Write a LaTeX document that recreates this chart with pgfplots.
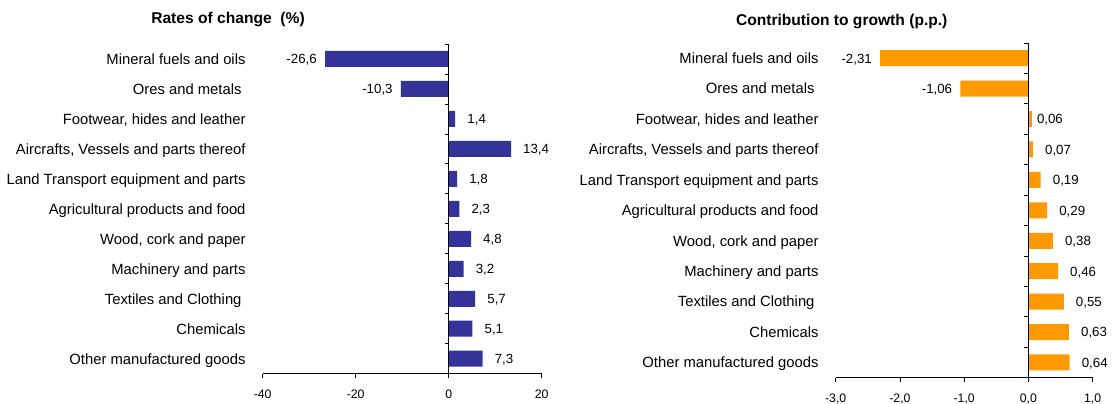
\documentclass[border=0pt]{standalone}
\usepackage{pgfplots}
\pgfplotsset{compat=1.18}
\usepackage{fontspec}
\setmainfont{Liberation Sans}
\definecolor{barblue}{HTML}{333399}
\definecolor{barorange}{HTML}{FF9900}
\newcommand{\catfont}{\fontsize{14.8}{17}\selectfont}
\newcommand{\datafont}{\fontsize{13.3}{15}\selectfont}
\newcommand{\tickfont}{\fontsize{12.3}{14}\selectfont}
\newcommand{\titlefont}{\fontsize{15.6}{18}\selectfont\bfseries}
\pgfkeys{/pgf/number format/assume math mode=true}
\pgfplotsset{
  mybar/.style={
    scale only axis, enlargelimits=false,
    ymin=-0.5, ymax=10.5,
    axis x line*=bottom, axis y line*=left,
    y axis line style={draw=none},
    x axis line style={line width=0.8pt},
    ytick={0,...,10},
    ytick style={draw=none},
    xtick style={draw=black, line width=0.8pt},
    tick align=outside, major tick length=4pt,
    yticklabel style={font=\catfont, anchor=base east, inner sep=0pt, xshift=-13pt, yshift=-5.3pt},
    xticklabel style={font=\tickfont, anchor=base, inner sep=0pt, yshift=-21pt},
    xbar, bar width=16pt, bar shift=0pt,
    clip=false,
    yticklabels={Other manufactured goods, Chemicals, Textiles and Clothing\hspace*{4pt}, Machinery and parts, {Wood, cork and paper}, Agricultural products and food, Land Transport equipment and parts, {Aircrafts, Vessels and parts thereof}, {Footwear, hides and leather}, Ores and metals\hspace*{4pt}, Mineral fuels and oils},
  },
  posl/.style={point meta=x, nodes near coords,
    every node near coord/.append style={font=\datafont, anchor=base west, inner sep=0pt, xshift=12pt, yshift=-4.8pt}},
  posn/.style={point meta=x, nodes near coords,
    every node near coord/.append style={font=\datafont, anchor=base west, inner sep=0pt, xshift=4.5pt, yshift=-4.8pt}},
  negl/.style={point meta=x, nodes near coords,
    every node near coord/.append style={font=\datafont, anchor=base east, inner sep=0pt, xshift=-8pt, yshift=-4.8pt}},
}
\begin{document}
\begin{tikzpicture}
\path[use as bounding box] (0pt,0pt) rectangle (1112pt,404pt);

\node[font=\titlefont, anchor=base] at (228pt,380pt) {Rates of change\ \ (\%)};
\node[font=\titlefont, anchor=base] at (841.7pt,378.5pt) {Contribution to growth (p.p.)};

\begin{axis}[mybar,
  at={(262.7pt,30.3pt)}, anchor=south west,
  width=279pt, height=329.7pt,
  xmin=-40, xmax=20, xtick={-40,-20,0,20},
  every node near coord/.append style={/pgf/number format/fixed, /pgf/number format/fixed zerofill, /pgf/number format/precision=1, /pgf/number format/use comma},
]
\addplot[fill=barblue, draw=none, posl] coordinates {(7.3,0) (5.1,1) (5.7,2) (3.2,3) (4.8,4) (2.3,5) (1.8,6) (13.4,7) (1.4,8)};
\addplot[fill=barblue, draw=none, negl] coordinates {(-10.3,9) (-26.6,10)};
\draw[line width=0.8pt] (axis cs:0,-0.5) -- (axis cs:0,10.5);
\pgfplotsinvokeforeach{-0.5,0.5,1.5,2.5,3.5,4.5,5.5,6.5,7.5,8.5,9.5,10.5}{\draw[line width=0.8pt] (axis cs:0,#1) -- ([xshift=-4pt]axis cs:0,#1);}
\end{axis}

\begin{axis}[mybar,
  at={(835.7pt,26.3pt)}, anchor=south west,
  width=257pt, height=334.7pt,
  xmin=-3, xmax=1, xtick={-3,-2,-1,0,1},
  xticklabel style={/pgf/number format/fixed, /pgf/number format/fixed zerofill, /pgf/number format/precision=1, /pgf/number format/use comma},
  every node near coord/.append style={/pgf/number format/fixed, /pgf/number format/fixed zerofill, /pgf/number format/precision=2, /pgf/number format/use comma},
]
\addplot[fill=barorange, draw=none, posl] coordinates {(0.64,0) (0.63,1) (0.55,2) (0.46,3) (0.38,4) (0.29,5) (0.19,6) (0.07,7)};
\addplot[fill=barorange, draw=none, posn] coordinates {(0.06,8)};
\addplot[fill=barorange, draw=none, negl] coordinates {(-1.06,9) (-2.31,10)};
\draw[line width=0.8pt] (axis cs:0,-0.5) -- (axis cs:0,10.5);
\pgfplotsinvokeforeach{-0.5,0.5,1.5,2.5,3.5,4.5,5.5,6.5,7.5,8.5,9.5,10.5}{\draw[line width=0.8pt] (axis cs:0,#1) -- ([xshift=-4pt]axis cs:0,#1);}
\end{axis}
\end{tikzpicture}
\end{document}
